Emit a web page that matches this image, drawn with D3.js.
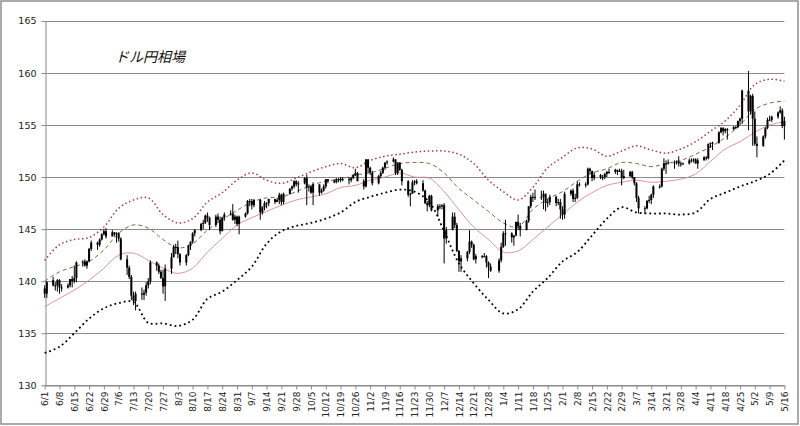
<!DOCTYPE html>
<html><head><meta charset="utf-8">
<script src="https://cdn.jsdelivr.net/npm/d3@7"></script>
<style>html,body{margin:0;padding:0;background:#fff}svg{display:block}</style>
</head><body>
<svg id="chart" width="800" height="426"></svg>
<script>
// ---- data ----
const title = "ドル円相場";
const yTicks = [130, 135, 140, 145, 150, 155, 160, 165];
const tickLabels = ["6/1","6/8","6/15","6/22","6/29","7/6","7/13","7/20","7/27","8/3","8/10","8/17","8/24","8/31",
  "9/7","9/14","9/21","9/28","10/5","10/12","10/19","10/26","11/2","11/9","11/16","11/23","11/30",
  "12/7","12/14","12/21","12/28","1/4","1/11","1/18","1/25","2/1","2/8","2/15","2/22","2/29",
  "3/7","3/14","3/21","3/28","4/4","4/11","4/18","4/25","5/2","5/9","5/16"];

const days = [
 "6/1","6/2",
 "6/5","6/6","6/7","6/8","6/9",
 "6/12","6/13","6/14","6/15","6/16",
 "6/19","6/20","6/21","6/22","6/23",
 "6/26","6/27","6/28","6/29","6/30",
 "7/3","7/4","7/5","7/6","7/7",
 "7/10","7/11","7/12","7/13","7/14",
 "7/17","7/18","7/19","7/20","7/21",
 "7/24","7/25","7/26","7/27","7/28",
 "7/31","8/1","8/2","8/3","8/4",
 "8/7","8/8","8/9","8/10","8/11",
 "8/14","8/15","8/16","8/17","8/18",
 "8/21","8/22","8/23","8/24","8/25",
 "8/28","8/29","8/30","8/31","9/1",
 "9/4","9/5","9/6","9/7","9/8",
 "9/11","9/12","9/13","9/14","9/15",
 "9/18","9/19","9/20","9/21","9/22",
 "9/25","9/26","9/27","9/28","9/29",
 "10/2","10/3","10/4","10/5","10/6",
 "10/9","10/10","10/11","10/12","10/13",
 "10/16","10/17","10/18","10/19","10/20",
 "10/23","10/24","10/25","10/26","10/27",
 "10/30","10/31","11/1","11/2","11/3",
 "11/6","11/7","11/8","11/9","11/10",
 "11/13","11/14","11/15","11/16","11/17",
 "11/20","11/21","11/22","11/23","11/24",
 "11/27","11/28","11/29","11/30","12/1",
 "12/4","12/5","12/6","12/7","12/8",
 "12/11","12/12","12/13","12/14","12/15",
 "12/18","12/19","12/20","12/21","12/22",
 "12/25","12/26","12/27","12/28","12/29",
 "1/2","1/3","1/4","1/5",
 "1/8","1/9","1/10","1/11","1/12",
 "1/15","1/16","1/17","1/18","1/19",
 "1/22","1/23","1/24","1/25","1/26",
 "1/29","1/30","1/31","2/1","2/2",
 "2/5","2/6","2/7","2/8","2/9",
 "2/12","2/13","2/14","2/15","2/16",
 "2/19","2/20","2/21","2/22","2/23",
 "2/26","2/27","2/28","2/29","3/1",
 "3/4","3/5","3/6","3/7","3/8",
 "3/11","3/12","3/13","3/14","3/15",
 "3/18","3/19","3/20","3/21","3/22",
 "3/25","3/26","3/27","3/28","3/29",
 "4/1","4/2","4/3","4/4","4/5",
 "4/8","4/9","4/10","4/11","4/12",
 "4/15","4/16","4/17","4/18","4/19",
 "4/22","4/23","4/24","4/25","4/26",
 "4/29","4/30","5/1","5/2","5/3",
 "5/6","5/7","5/8","5/9","5/10",
 "5/13","5/14","5/15","5/16"];

const open = [
 139.3,138.8,
 140.1,139.6,139.6,140.1,139.4,
 139.4,139.6,140.2,140.0,140.3,
 141.8,141.9,141.5,141.9,143.1,
 143.7,143.5,144.0,144.5,144.8,
 144.3,144.7,144.5,144.6,144.1,
 142.1,141.3,140.4,138.6,138.1,
 138.8,138.7,138.9,139.6,140.0,
 141.8,141.5,140.9,140.3,139.5,
 141.2,142.3,143.3,143.3,142.6,
 141.8,142.5,143.4,143.8,144.6,
 144.9,145.5,145.6,146.3,146.1,
 145.4,146.2,145.9,144.8,146.1,
 146.4,146.5,145.9,146.2,145.5,
 146.2,146.5,147.7,147.7,147.3,
 147.8,146.6,147.1,147.5,147.5,
 147.9,147.6,147.8,148.3,147.6,
 148.4,148.9,149.1,149.6,149.3,
 149.4,149.9,149.0,149.1,148.5,
 149.3,148.5,148.7,149.1,149.8,
 149.6,149.5,149.8,149.8,149.8,
 149.8,149.7,149.9,150.2,150.4,
 149.6,149.1,151.7,150.9,150.4,
 149.4,150.1,150.4,150.9,151.4,
 151.5,151.7,150.4,151.4,150.7,
 149.6,148.3,148.4,149.5,149.6,
 149.4,148.7,147.5,147.3,148.2,
 146.8,147.2,147.2,147.3,144.1,
 144.9,146.2,145.4,142.9,141.9,
 142.2,142.8,143.8,143.5,142.1,
 142.4,142.4,142.4,141.8,141.4,
 141.0,142.0,143.3,144.6,
 144.6,144.2,144.4,145.7,145.3,
 144.9,145.8,147.2,148.1,148.1,
 148.1,148.1,148.4,147.5,147.6,
 148.1,147.5,147.6,146.9,146.4,
 148.4,148.7,147.9,148.0,149.3,
 149.3,149.3,150.8,150.6,149.9,
 150.2,150.0,150.0,150.3,150.5,
 150.5,150.7,150.5,150.6,149.9,
 150.1,150.5,150.0,149.4,148.0,
 147.0,147.0,147.7,147.8,148.3,
 149.1,149.1,150.8,151.3,151.3,
 151.4,151.4,151.5,151.3,151.3,
 151.3,151.6,151.6,151.7,151.3,
 151.6,151.9,151.8,153.2,153.3,
 153.3,154.3,154.7,154.4,154.6,
 154.6,154.8,154.8,155.4,155.6,
 158.3,156.3,157.8,155.6,153.2,
 153.0,153.9,154.7,155.5,155.5,
 155.8,156.2,156.4,154.9];

const high = [
 139.6,140.0,
 140.4,139.9,140.2,140.2,139.7,
 139.8,140.2,140.5,141.5,141.9,
 142.0,142.1,142.0,143.2,143.9,
 143.8,144.1,144.6,145.0,145.1,
 144.9,144.7,144.7,144.7,144.2,
 142.5,141.5,140.6,139.0,139.0,
 139.4,139.2,139.9,140.3,142.0,
 141.9,141.7,141.1,141.1,141.6,
 142.7,143.5,143.6,143.9,142.7,
 142.6,143.5,143.8,144.7,145.0,
 145.6,145.9,146.4,146.6,146.2,
 146.4,146.5,146.2,146.2,146.6,
 146.8,147.4,146.4,146.3,146.3,
 146.6,147.8,147.9,147.9,147.9,
 147.9,147.2,147.7,147.6,147.9,
 147.9,148.0,148.5,148.4,148.5,
 148.9,149.2,149.7,149.7,149.6,
 150.0,150.2,149.3,149.2,149.5,
 149.3,148.9,149.3,149.8,149.8,
 149.8,149.9,149.9,150.0,150.0,
 150.0,150.0,150.3,150.8,150.5,
 149.8,151.7,151.7,151.0,150.6,
 150.2,150.6,151.0,151.4,151.6,
 151.9,151.7,151.4,151.4,150.8,
 149.7,148.5,149.7,149.7,149.8,
 149.7,148.8,147.7,148.3,148.3,
 147.4,147.4,147.4,147.5,145.2,
 146.6,146.6,145.6,143.0,142.5,
 142.9,144.9,143.9,143.6,142.6,
 142.5,142.7,142.5,141.9,141.7,
 142.2,143.7,144.8,145.9,
 144.7,144.4,145.7,146.4,145.6,
 145.9,147.2,148.3,148.5,148.8,
 148.7,148.7,148.4,147.9,148.3,
 148.2,147.9,147.9,147.2,148.6,
 148.8,148.9,148.4,149.6,149.5,
 149.5,150.9,150.9,150.6,150.5,
 150.3,150.2,150.4,150.6,150.8,
 150.8,150.7,150.8,150.8,150.7,
 150.6,150.6,150.0,149.5,148.2,
 147.2,147.8,148.2,148.4,149.2,
 149.3,150.9,151.8,151.6,151.7,
 151.6,151.6,152.0,151.5,151.4,
 151.8,151.8,151.8,151.8,151.8,
 152.0,152.0,153.2,153.3,153.4,
 154.4,154.8,154.8,154.7,154.7,
 154.9,154.9,155.4,155.7,158.4,
 160.2,157.9,158.0,156.3,153.9,
 154.0,154.8,155.7,155.9,155.9,
 156.3,156.8,156.6,155.8];

const low = [
 138.4,138.4,
 139.5,139.1,139.0,138.8,139.0,
 139.3,139.4,139.4,139.8,139.9,
 141.4,141.4,141.2,141.8,142.9,
 143.0,143.3,143.9,144.4,144.1,
 144.3,144.3,143.7,143.8,142.0,
 140.6,140.2,138.2,137.7,137.2,
 138.2,138.2,138.6,139.3,139.7,
 141.0,140.7,140.2,138.8,138.1,
 140.7,142.3,142.6,142.2,141.5,
 141.5,142.4,143.0,143.6,144.3,
 144.8,145.0,145.5,145.7,144.9,
 145.2,145.6,144.5,144.8,145.8,
 146.3,145.8,145.5,145.3,144.5,
 146.1,146.4,147.2,146.9,147.1,
 145.9,146.4,146.8,147.0,147.2,
 147.4,147.6,147.4,147.3,147.4,
 148.3,148.7,148.9,149.1,148.5,
 149.3,147.3,148.6,148.4,147.3,
 148.2,148.4,148.6,148.9,149.4,
 149.4,149.4,149.5,149.5,149.6,
 149.3,149.5,149.8,150.1,149.6,
 148.8,149.0,150.4,150.2,149.2,
 149.3,149.9,150.3,150.7,151.2,
 151.4,150.2,150.2,150.6,149.2,
 148.1,147.2,148.4,149.2,149.3,
 148.6,147.4,146.7,147.1,146.7,
 146.2,146.9,146.9,141.7,143.6,
 144.9,145.1,142.8,140.9,140.9,
 141.9,142.6,143.2,142.0,141.7,
 142.2,142.3,141.3,140.3,140.9,
 140.8,141.8,143.2,143.4,
 143.7,143.4,144.3,144.9,144.3,
 144.9,145.6,147.0,147.6,147.8,
 147.8,146.9,146.7,147.1,147.3,
 147.2,147.3,146.0,145.9,146.0,
 148.2,147.6,147.6,147.9,149.1,
 149.0,149.2,150.3,149.6,149.7,
 149.8,149.7,149.8,150.0,150.3,
 150.3,150.2,150.5,149.2,149.8,
 150.0,149.8,149.2,147.6,146.5,
 146.5,146.9,147.5,147.4,148.0,
 148.9,149.0,150.6,150.3,151.2,
 150.8,151.2,151.0,151.0,151.2,
 151.2,151.4,151.4,151.3,150.8,
 151.6,151.6,151.7,152.8,152.6,
 153.2,154.2,154.0,154.2,153.6,
 154.5,154.6,154.7,155.0,155.1,
 154.5,156.0,153.0,153.0,151.9,
 152.9,153.7,154.6,155.4,155.3,
 155.6,156.1,154.7,153.6];

const close = [
 138.8,139.9,
 139.6,139.6,140.1,139.4,139.4,
 139.6,140.2,140.0,140.3,141.8,
 141.9,141.5,141.9,143.1,143.7,
 143.5,144.0,144.5,144.8,144.3,
 144.7,144.5,144.6,144.1,142.1,
 141.3,140.4,138.6,138.1,138.8,
 138.7,138.9,139.6,140.0,141.8,
 141.5,140.9,140.3,139.5,141.2,
 142.3,143.3,143.3,142.6,141.8,
 142.5,143.4,143.8,144.6,144.9,
 145.5,145.6,146.3,146.1,145.4,
 146.2,145.9,144.8,146.1,146.4,
 146.5,145.9,146.2,145.5,146.2,
 146.5,147.7,147.7,147.3,147.8,
 146.6,147.1,147.5,147.5,147.9,
 147.6,147.8,148.3,147.6,148.4,
 148.9,149.1,149.6,149.3,149.4,
 149.9,149.0,149.1,148.5,149.3,
 148.5,148.7,149.1,149.8,149.6,
 149.5,149.8,149.8,149.8,149.8,
 149.7,149.9,150.2,150.4,149.6,
 149.1,151.7,150.9,150.4,149.4,
 150.1,150.4,150.9,151.4,151.5,
 151.7,150.4,151.4,150.7,149.6,
 148.3,148.4,149.5,149.6,149.4,
 148.7,147.5,147.3,148.2,146.8,
 147.2,147.2,147.3,144.1,144.9,
 146.2,145.4,142.9,141.9,142.2,
 142.8,143.8,143.5,142.1,142.4,
 142.4,142.4,141.8,141.4,141.0,
 142.0,143.3,144.6,144.6,
 144.2,144.4,145.7,145.3,144.9,
 145.8,147.2,148.1,148.1,148.1,
 148.1,148.4,147.5,147.6,148.1,
 147.5,147.6,146.9,146.4,148.4,
 148.7,147.9,148.0,149.3,149.3,
 149.3,150.8,150.6,149.9,150.2,
 150.0,150.0,150.3,150.5,150.5,
 150.7,150.5,150.6,149.9,150.1,
 150.5,150.0,149.4,148.0,147.0,
 147.0,147.7,147.8,148.3,149.1,
 149.1,150.8,151.3,151.3,151.4,
 151.4,151.5,151.3,151.3,151.3,
 151.6,151.6,151.7,151.3,151.6,
 151.9,151.8,153.2,153.3,153.3,
 154.3,154.7,154.4,154.6,154.6,
 154.8,154.8,155.4,155.6,158.3,
 156.3,157.8,155.6,153.2,153.0,
 153.9,154.7,155.5,155.5,155.8,
 156.2,156.4,154.9,155.4];

// Bollinger lines read at each weekly tick date
const bandUpper = [142.0,143.5,144.0,144.2,145.2,147.0,147.8,148.0,146.4,145.6,146.0,147.6,148.5,149.7,
  150.4,149.7,149.4,149.9,150.5,151.0,151.3,150.9,151.6,152.0,152.2,152.4,152.5,
  152.5,152.2,151.3,149.7,148.6,147.8,149.0,150.9,151.9,152.8,152.7,152.0,152.5,
  153.0,152.6,152.3,152.7,153.4,154.4,155.4,156.9,158.9,159.4,159.2];
const bandPlus1 = [140.0,140.9,141.4,141.9,143.0,144.6,145.4,145.1,144.0,143.2,143.6,144.9,145.9,146.8,
  147.6,148.0,148.1,148.6,149.2,149.6,149.8,150.2,150.4,150.85,151.3,151.4,151.3,
  150.4,148.9,147.8,146.7,145.6,145.2,146.9,147.9,148.6,149.6,150.4,150.8,151.4,
  151.3,151.0,151.3,151.6,152.2,152.9,153.8,155.0,156.5,157.1,157.3];
const bandMid = [137.55,138.35,139.15,140.1,141.25,142.5,142.7,142.0,141.25,140.75,141.25,142.8,144.1,145.4,
  146.1,146.7,147.3,147.8,148.1,148.4,149.0,149.2,149.7,150.0,150.4,150.0,149.9,
  148.6,146.85,145.2,144.0,142.8,142.9,144.0,145.2,146.4,147.6,148.5,149.2,149.5,
  149.7,149.5,149.6,149.8,150.3,151.5,152.7,153.4,154.3,155.0,155.3];
const bandLower = [133.1,133.7,135.0,136.4,137.4,137.9,138.0,136.0,135.95,135.7,136.3,138.3,139.0,140.1,
  141.4,143.6,144.8,145.3,145.6,146.0,146.6,147.6,148.1,148.5,148.8,148.6,147.6,
  144.8,141.7,139.8,138.2,136.9,137.3,139.0,140.3,141.9,142.8,144.4,146.0,147.1,
  146.6,146.5,146.5,146.4,146.6,147.9,148.5,149.1,149.6,150.3,151.6];

// ---- drawing ----
const parseDay = s => { const [m, d] = s.split("/").map(Number); return new Date(m >= 6 ? 2023 : 2024, m - 1, d); };
const svg = d3.select("#chart");
const L = 44.7, R = 784.4, T = 20.9, B = 385.3;
const x = d3.scaleTime().domain([parseDay("6/1"), parseDay("5/16")]).range([L, R]);
const y = d3.scaleLinear().domain([130, 165]).range([B, T]);

// outer border
svg.append("rect").attr("x", 1).attr("y", 1).attr("width", 797).attr("height", 423)
  .attr("fill", "#fff").attr("stroke", "#8e8e8e").attr("stroke-width", 1.5);

// gridlines
svg.append("g").selectAll("line").data(yTicks).join("line")
  .attr("x1", L).attr("x2", R)
  .attr("y1", d => Math.round(y(d)) + 0.5).attr("y2", d => Math.round(y(d)) + 0.5)
  .attr("stroke", "#8a8a8a").attr("stroke-width", 1);

// y axis
const yAxis = svg.append("g").attr("transform", `translate(${Math.round(L) + 0.5},0)`)
  .call(d3.axisLeft(y).tickValues(yTicks).tickSize(4).tickSizeOuter(0).tickPadding(5).tickFormat(d3.format("d")));
yAxis.select(".domain").attr("stroke", "#8a8a8a");
yAxis.selectAll(".tick line").attr("stroke", "#8a8a8a");
yAxis.selectAll("text").attr("font-family", "DejaVu Sans, sans-serif").attr("font-size", 9.5).attr("fill", "#222");

// x axis
const tickDates = tickLabels.map(parseDay);
const xAxis = svg.append("g").attr("transform", `translate(0,${Math.round(B) + 0.5})`)
  .call(d3.axisBottom(x).tickValues(tickDates).tickSize(4).tickSizeOuter(0).tickFormat((d, i) => tickLabels[i]));
xAxis.select(".domain").attr("stroke", "#8a8a8a");
xAxis.selectAll(".tick line").attr("stroke", "#8a8a8a");
xAxis.selectAll("text")
  .attr("font-family", "DejaVu Sans, sans-serif").attr("font-size", 9).attr("fill", "#222")
  .attr("transform", "rotate(-90)").attr("text-anchor", "end")
  .attr("x", -6).attr("y", 0).attr("dy", "0.35em");

// band lines
const line = d3.line().x((d, i) => x(tickDates[i])).y(d => y(d)).curve(d3.curveCatmullRom.alpha(0.5));
svg.append("path").datum(bandMid).attr("d", line).attr("fill", "none")
  .attr("stroke", "#d98a8a").attr("stroke-width", 0.9);
svg.append("path").datum(bandPlus1).attr("d", line).attr("fill", "none")
  .attr("stroke", "#7d6a40").attr("stroke-width", 1).attr("stroke-dasharray", "4,3");
svg.append("path").datum(bandUpper).attr("d", line).attr("fill", "none")
  .attr("stroke", "#a83c3c").attr("stroke-width", 1.5).attr("stroke-dasharray", "1.5,2.6");
svg.append("path").datum(bandLower).attr("d", line).attr("fill", "none")
  .attr("stroke", "#000").attr("stroke-width", 1.8).attr("stroke-dasharray", "1.8,3");

// candles
const candles = days.map((s, i) => ({ date: parseDay(s), o: open[i], h: high[i], l: low[i], c: close[i] }));
const g = svg.append("g");
g.selectAll("line").data(candles).join("line")
  .attr("x1", d => x(d.date)).attr("x2", d => x(d.date))
  .attr("y1", d => y(d.h)).attr("y2", d => y(d.l))
  .attr("stroke", "#000").attr("stroke-width", 1);
g.selectAll("rect").data(candles).join("rect")
  .attr("x", d => x(d.date) - 1).attr("width", 2)
  .attr("y", d => y(Math.max(d.o, d.c)))
  .attr("height", d => Math.max(1, Math.abs(y(d.o) - y(d.c))))
  .attr("fill", "#000");

// title
svg.append("text").attr("x", 115).attr("y", 62).text(title)
  .attr("font-family", "Noto Sans CJK JP, sans-serif").attr("font-size", 14)
  .attr("font-style", "italic").attr("fill", "#111");
</script>
</body></html>
